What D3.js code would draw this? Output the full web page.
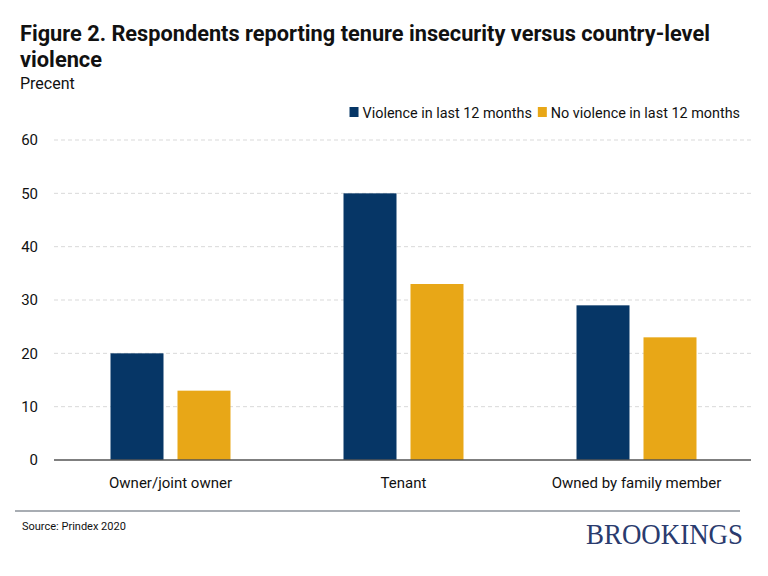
<!DOCTYPE html>
<html><head><meta charset="utf-8">
<script src="https://cdn.jsdelivr.net/npm/d3@7"></script>
<style>body{margin:0;background:#fff}svg{display:block;font-family:Roboto,"Liberation Sans",sans-serif}</style>
</head><body><svg id="c" width="768" height="576"></svg>
<script>
const categories = ["Owner/joint owner", "Tenant", "Owned by family member"];
const seriesNames = ["Violence in last 12 months", "No violence in last 12 months"];
const violence = [20, 50, 29];
const noViolence = [13, 33, 23];
const yTicks = [0, 10, 20, 30, 40, 50, 60];
const colors = ["#063666", "#e8a717"];

const svg = d3.select("#c");
const x0 = d3.scaleBand().domain(categories).range([54, 753]).paddingInner(0.485).paddingOuter(0.2425);
const x1 = d3.scaleBand().domain(seriesNames).range([0, x0.bandwidth()]).paddingInner(0.209);
const y = d3.scaleLinear().domain([0, 60]).range([460, 140]);

// title
svg.append("text").attr("x", 20).attr("y", 41).attr("font-size", 21.8).attr("font-weight", 700).attr("fill", "#111")
  .attr("textLength", 690).attr("lengthAdjust", "spacingAndGlyphs")
  .text("Figure 2. Respondents reporting tenure insecurity versus country-level");
svg.append("text").attr("x", 20).attr("y", 67).attr("font-size", 21.8).attr("font-weight", 700).attr("fill", "#111")
  .text("violence");
svg.append("text").attr("x", 20).attr("y", 89).attr("font-size", 16).attr("fill", "#111").text("Precent");

// grid
svg.append("g").selectAll("line").data(yTicks.filter(d => d > 0)).join("line")
  .attr("x1", 54).attr("x2", 751).attr("y1", d => y(d)).attr("y2", d => y(d))
  .attr("stroke", "#d9d9d9").attr("stroke-dasharray", "4,3").attr("stroke-width", 1);

// y axis
const ya = svg.append("g").attr("transform", "translate(54,0)")
  .call(d3.axisLeft(y).tickValues(yTicks).tickSize(0).tickPadding(16));
ya.select(".domain").remove();
ya.selectAll("text").attr("font-size", 15).attr("fill", "#111").attr("font-family", "Roboto, sans-serif");

// bars
const rows = categories.map((c, i) => ({c, vals: [violence[i], noViolence[i]]}));
svg.append("g").selectAll("g").data(rows).join("g")
  .attr("transform", d => `translate(${x0(d.c)},0)`)
  .selectAll("rect").data(d => d.vals.map((v, j) => ({s: seriesNames[j], v, j}))).join("rect")
  .attr("x", d => x1(d.s)).attr("width", x1.bandwidth())
  .attr("y", d => y(d.v)).attr("height", d => y(0) - y(d.v))
  .attr("fill", d => colors[d.j]);

// baseline
svg.append("line").attr("x1", 54).attr("x2", 751).attr("y1", y(0)).attr("y2", y(0)).attr("stroke", "#555").attr("stroke-width", 1.5);

// x axis
const xa = svg.append("g").attr("transform", `translate(0,${y(0)})`)
  .call(d3.axisBottom(x0).tickSize(0).tickPadding(17));
xa.select(".domain").remove();
xa.selectAll("text").attr("font-size", 15).attr("fill", "#111").attr("font-family", "Roboto, sans-serif");

// legend (right aligned at 740)
const lg = svg.append("g").attr("font-size", 14.4);
let xr = 740;
for (let j = seriesNames.length - 1; j >= 0; j--) {
  const t = lg.append("text").attr("x", xr).attr("y", 118).attr("text-anchor", "end").attr("fill", "#111").text(seriesNames[j]);
  const w = t.node().getComputedTextLength();
  lg.append("rect").attr("x", xr - w - 13).attr("y", 107).attr("width", 9).attr("height", 10).attr("fill", colors[j]);
  xr = xr - w - 19;
}

// footer
svg.append("line").attr("x1", 15).attr("x2", 740).attr("y1", 511).attr("y2", 511).attr("stroke", "#a8adb3").attr("stroke-width", 2);
svg.append("text").attr("x", 22).attr("y", 530).attr("font-size", 11).attr("fill", "#111").text("Source: Prindex 2020");
svg.append("text").attr("x", 743).attr("y", 544).attr("text-anchor", "end").attr("font-size", 30)
  .attr("font-family", "'Liberation Serif', 'DejaVu Serif', serif").attr("fill", "#2a3b6e")
  .attr("textLength", 157).attr("lengthAdjust", "spacingAndGlyphs").text("BROOKINGS");
</script></body></html>
